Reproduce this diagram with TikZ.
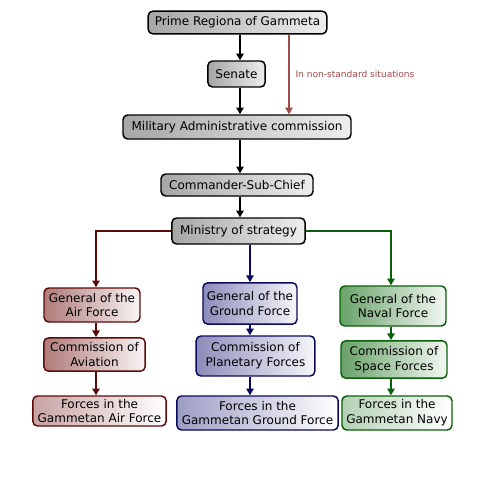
\documentclass[tikz,border=0pt]{standalone}
\usepackage{fontspec}
\setmainfont{DejaVu Sans}
\usetikzlibrary{arrows.meta,calc}
\definecolor{airB}{HTML}{5C0A0A}
\definecolor{airD}{HTML}{B07A7A}
\definecolor{gndB}{HTML}{0A0A5E}
\definecolor{gndD}{HTML}{8C8CBA}
\definecolor{navB}{HTML}{0A600A}
\definecolor{navD}{HTML}{68A268}
\definecolor{grayD}{HTML}{A6A6A6}
\definecolor{grayL}{HTML}{EEEEEE}
\definecolor{noteC}{HTML}{A04A4A}
\tikzset{
  box/.style={draw=black, line width=1.1pt, rounded corners=3.5pt, inner sep=1pt,
    align=center, font=\fontsize{9}{11}\selectfont},
  graybox/.style={box, left color=grayD, right color=grayL},
  airbox/.style={box, draw=airB, left color=airD, right color=airD!8},
  gndbox/.style={box, draw=gndB, left color=gndD, right color=gndD!8},
  navbox/.style={box, draw=navB, left color=navD, right color=navD!8},
  airlast/.style={box, draw=airB, left color=airD!70, right color=white},
  gndlast/.style={box, draw=gndB, left color=gndD!85, right color=white},
  navlast/.style={box, draw=navB, left color=navD!50, right color=white},
  conn/.style={line width=1.1pt, -{Triangle[length=5pt,width=5.5pt]}},
}
\begin{document}
\begin{tikzpicture}[x=0.75pt,y=-0.75pt]
\useasboundingbox (0,0) rectangle (480,480);
\coordinate (colM) at (240,0);
\coordinate (colN) at (289,0);
\coordinate (colA) at (96,0);
\coordinate (colG) at (250,0);
\coordinate (colV) at (391,0);

\node[graybox, minimum width=134pt, minimum height=17pt] (prime) at (237.5,22.5) {Prime Regiona of Gammeta};
\node[graybox, minimum width=43pt, minimum height=19.5pt] (senate) at (236.5,74) {Senate};
\node[graybox, minimum width=171pt, minimum height=18pt] (mil) at (237,127) {Military Administrative commission};
\node[graybox, minimum width=114pt, minimum height=16.5pt] (cmd) at (237,185) {Commander-Sub-Chief};
\node[graybox, minimum width=100pt, minimum height=19.5pt] (min) at (238.5,231) {Ministry of strategy};

\node[airbox, minimum width=72pt, minimum height=25.5pt] (airgen) at (92,305) {General of the\\Air Force};
\node[airbox, minimum width=76pt, minimum height=25pt] (aviation) at (94.5,354.5) {Commission of\\Aviation};
\node[airlast, minimum width=100pt, minimum height=22.5pt] (airforces) at (99.5,411) {Forces in the\\Gammetan Air Force};

\node[gndbox, minimum width=70.5pt, minimum height=31pt] (gndgen) at (250,303.5) {General of the\\Ground Force};
\node[gndbox, minimum width=89pt, minimum height=30pt] (planet) at (255.5,356) {Commission of\\Planetary Forces};
\node[gndlast, minimum width=121pt, minimum height=25.5pt] (gndforces) at (257.5,413) {Forces in the\\Gammetan Ground Force};

\node[navbox, minimum width=79.5pt, minimum height=30pt] (navgen) at (393,306) {General of the\\Naval Force};
\node[navbox, minimum width=79.5pt, minimum height=28pt] (space) at (394,359.5) {Commission of\\Space Forces};
\node[navlast, minimum width=82.5pt, minimum height=25.5pt] (navy) at (397,413) {Forces in the\\Gammetan Navy};

\draw[conn] (prime.south -| colM) -- (senate.north -| colM);
\draw[conn] (senate.south -| colM) -- (mil.north -| colM);
\draw[conn] (mil.south -| colM) -- (cmd.north -| colM);
\draw[conn] (cmd.south -| colM) -- (min.north -| colM);
\draw[conn, draw=noteC, fill=noteC] (prime.south -| colN) -- node[pos=0.5, right=1pt, text=noteC, font=\fontsize{6.8}{8}\selectfont, fill=none] (note) {In non-standard situations} (mil.north -| colN);

\draw[conn, draw=airB] (min.west) -| (airgen.north -| colA);
\draw[conn, draw=gndB] (min.south -| colG) -- (gndgen.north -| colG);
\draw[conn, draw=navB] (min.east) -| (navgen.north -| colV);

\draw[conn, draw=airB] (airgen.south -| colA) -- (aviation.north -| colA);
\draw[conn, draw=airB] (aviation.south -| colA) -- (airforces.north -| colA);
\draw[conn, draw=gndB] (gndgen.south -| colG) -- (planet.north -| colG);
\draw[conn, draw=gndB] (planet.south -| colG) -- (gndforces.north -| colG);
\draw[conn, draw=navB] (navgen.south -| colV) -- (space.north -| colV);
\draw[conn, draw=navB] (space.south -| colV) -- (navy.north -| colV);
\end{tikzpicture}
\end{document}
